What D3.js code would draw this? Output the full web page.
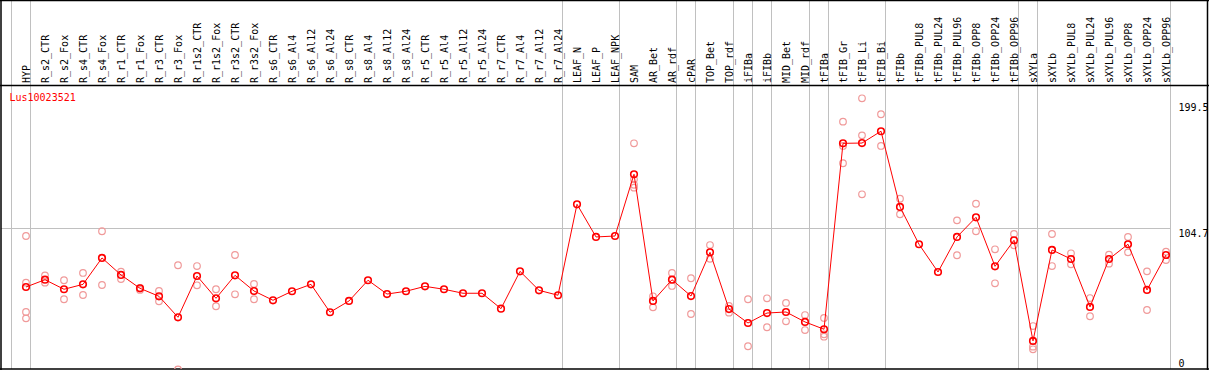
<!DOCTYPE html>
<html>
<head>
<meta charset="utf-8">
<script src="https://cdn.jsdelivr.net/npm/d3@7"></script>
<style>
  html, body { margin: 0; padding: 0; background: #fff; }
  #chart svg { display: block; font-family: "DejaVu Sans Mono", monospace; font-size: 10px; }
</style>
</head>
<body>
<div id="chart"></div>
<script>
(() => {
  const GENE = "Lus10023521";

  const categories = [
    "HYP", "R_s2_CTR", "R_s2_Fox", "R_s4_CTR", "R_s4_Fox", "R_r1_CTR", "R_r1_Fox", "R_r3_CTR", "R_r3_Fox",
    "R_r1s2_CTR", "R_r1s2_Fox", "R_r3s2_CTR", "R_r3s2_Fox", "R_s6_CTR", "R_s6_Al4", "R_s6_Al12", "R_s6_Al24",
    "R_s8_CTR", "R_s8_Al4", "R_s8_Al12", "R_s8_Al24", "R_r5_CTR", "R_r5_Al4", "R_r5_Al12", "R_r5_Al24",
    "R_r7_CTR", "R_r7_Al4", "R_r7_Al12", "R_r7_Al24", "LEAF_N", "LEAF_P", "LEAF_NPK", "SAM", "AR_Bet", "AR_rdf",
    "cPAR", "TOP_Bet", "TOP_rdf", "iFIBa", "iFIBb", "MID_Bet", "MID_rdf", "tFIBa", "tFIB_Gr", "tFIB_Li", "tFIB_Bi",
    "tFIBb", "tFIBb_PUL8", "tFIBb_PUL24", "tFIBb_PUL96", "tFIBb_OPP8", "tFIBb_OPP24", "tFIBb_OPP96",
    "sXYLa", "sXYLb", "sXYLb_PUL8", "sXYLb_PUL24", "sXYLb_PUL96", "sXYLb_OPP8", "sXYLb_OPP24", "sXYLb_OPP96"
  ];

  // mean expression per sample
  const means = [
    60.0, 65.5, 58.3, 62.0, 81.9, 69.1, 59.0, 53.0, 37.2,
    68.3, 51.5, 68.8, 57.0, 50.0, 56.8, 62.0, 41.0,
    49.5, 65.1, 54.7, 56.8, 60.5, 58.3, 55.3, 55.3,
    43.7, 71.8, 57.5, 53.8, 122.3, 97.7, 98.4, 144.9, 49.5, 65.5,
    53.2, 86.1, 43.4, 32.9, 40.4, 41.2, 33.7, 28.2, 168.2, 168.4, 177.3,
    120.3, 92.2, 71.3, 97.7, 112.5, 75.6, 95.2,
    19.4, 87.9, 81.1, 45.0, 81.1, 92.2, 57.8, 84.1
  ];

  // individual replicates (empty = none shown)
  const replicates = [
    [98.4, 63.3, 41.2, 36.4], [68.8, 63.3], [65.1, 50.8], [70.6, 54.0], [102.0, 61.5], [71.5, 66.0],
    [59.3, 57.8], [57.0, 49.2], [76.4, -2.1], [75.8, 61.3], [58.3, 45.5], [84.1, 54.5], [62.3, 50.8],
    [], [], [], [], [], [], [], [], [], [], [], [], [], [], [], [], [], [], [],
    [168.2, 141.1, 137.0, 134.8], [53.0, 44.7], [70.6, 60.8], [66.6, 39.7], [91.6, 81.3], [45.7, 40.7],
    [50.8, 15.4], [51.5, 29.7], [48.0, 34.2], [38.9, 27.6], [36.7, 24.4, 22.6],
    [184.5, 166.2, 153.2], [202.1, 174.2, 129.8], [190.1, 166.2],
    [126.5, 114.8], [], [], [110.2, 83.9], [122.7, 102.0], [88.4, 62.8], [99.9, 91.4],
    [30.6, 15.1, 13.1], [99.9, 75.8], [85.4, 77.1], [51.7, 38.0], [84.3, 77.6], [97.7, 86.1], [71.8, 42.7], [86.6, 80.3]
  ];

  // separators drawn right after these sample indexes (-1 = before first)
  const groupEnds = [-1, 0, 28, 31, 34, 35, 37, 38, 39, 41, 42, 45, 52, 53, 60];
  const yTicks = [0, 104.7, 199.5];
  const yGrid = [104.7];
  const yMax = 209.4;

  const W = 1209, H = 370;
  const headerY = 85.5, bottomY = 369, leftX = 1, rightX = 1207.5, axisX = 1170;

  const svg = d3.select("#chart").append("svg")
    .attr("width", W).attr("height", H)
    .attr("viewBox", `0 0 ${W} ${H}`);

  const x = d3.scalePoint().domain(categories).range([26, 1166]);
  const y = d3.scaleLinear().domain([0, yMax]).range([366.7, 88.6]);

  svg.append("defs").append("clipPath").attr("id", "plotClip")
    .append("rect").attr("x", leftX).attr("y", headerY).attr("width", axisX - leftX).attr("height", bottomY - headerY);

  // horizontal grid
  svg.append("g")
    .attr("transform", `translate(${axisX},0)`)
    .call(d3.axisRight(y).tickValues(yGrid).tickSize(-(axisX - leftX)).tickFormat(""))
    .call(g => g.select(".domain").remove())
    .selectAll("line").attr("stroke", "#c0c0c0").attr("shape-rendering", "crispEdges");

  // group separators (full height)
  const sepX = i => (i >= 0 ? x(categories[i]) : x(categories[0]) - x.step()) + 4.5;
  svg.append("g").selectAll("line").data(groupEnds).join("line")
    .attr("x1", d => sepX(d)).attr("x2", d => sepX(d))
    .attr("y1", 0).attr("y2", bottomY)
    .attr("stroke", "#c0c0c0").attr("shape-rendering", "crispEdges");

  // sample labels
  svg.append("g").selectAll("text").data(categories).join("text")
    .attr("transform", d => `translate(${x(d) + 3.7},83) rotate(-90)`)
    .attr("fill", "#000")
    .text(d => d);

  // frame
  const frame = svg.append("g").attr("stroke", "#000").attr("stroke-width", 1.5).attr("fill", "none");
  frame.append("line").attr("x1", 0).attr("x2", W).attr("y1", 0.5).attr("y2", 0.5);
  frame.append("line").attr("x1", 0).attr("x2", W).attr("y1", headerY).attr("y2", headerY);
  frame.append("line").attr("x1", 0).attr("x2", W).attr("y1", bottomY).attr("y2", bottomY);
  frame.append("line").attr("x1", leftX).attr("x2", leftX).attr("y1", 0).attr("y2", H);
  frame.append("line").attr("x1", rightX).attr("x2", rightX).attr("y1", 0).attr("y2", H);

  // right value labels
  svg.append("g")
    .attr("transform", `translate(${axisX},0)`)
    .call(d3.axisRight(y).tickValues(yTicks).tickSize(0).tickPadding(8.5).tickFormat(d => d))
    .call(g => g.select(".domain").remove())
    .attr("font-family", null).attr("font-size", null)
    .selectAll("text").attr("dy", d => d === 0 ? "-0.05em" : "0.88em");

  svg.append("text").attr("x", 9.5).attr("y", 101).attr("fill", "#ff0000").text(GENE);

  const plot = svg.append("g").attr("clip-path", "url(#plotClip)");

  // replicate points
  const reps = replicates.flatMap((r, i) => r.map(v => ({ c: categories[i], v })));
  plot.append("g").selectAll("circle").data(reps).join("circle")
    .attr("cx", d => x(d.c)).attr("cy", d => y(d.v)).attr("r", 3.3)
    .attr("fill", "none").attr("stroke", "#f09a9a").attr("stroke-width", 1.2);

  // mean line + points
  const pts = categories.map((c, i) => ({ c, v: means[i] }));
  const line = d3.line().x(d => x(d.c)).y(d => y(d.v));
  plot.append("path").datum(pts)
    .attr("d", line).attr("fill", "none").attr("stroke", "#ff0000").attr("stroke-width", 1);
  plot.append("g").selectAll("circle").data(pts).join("circle")
    .attr("cx", d => x(d.c)).attr("cy", d => y(d.v)).attr("r", 3.3)
    .attr("fill", "none").attr("stroke", "#ff0000").attr("stroke-width", 1.6);
})();
</script>
</body>
</html>
